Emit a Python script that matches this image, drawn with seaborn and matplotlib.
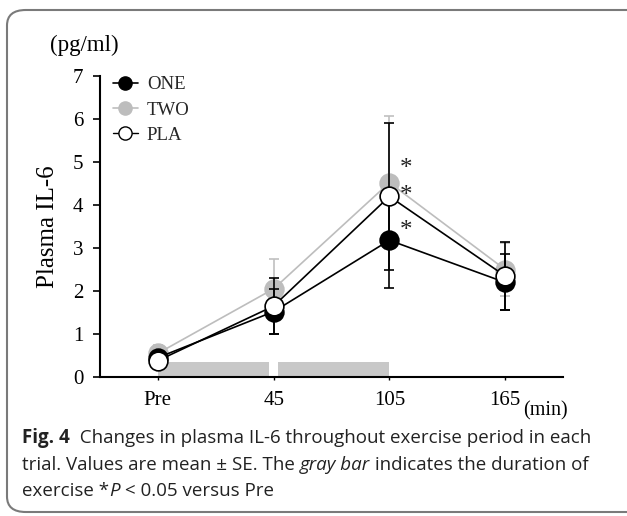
import matplotlib
matplotlib.use("Agg")
import matplotlib.pyplot as plt
from matplotlib.patches import FancyBboxPatch
from matplotlib.lines import Line2D
import seaborn as sns
import pandas as pd
import numpy as np

# ---- data ----
time_labels = ["Pre", "45", "105", "165"]
one_mean = [0.45, 1.52, 3.18, 2.20]
one_se = [0.15, 0.52, 1.10, 0.65]
two_mean = [0.55, 2.05, 4.52, 2.50]
two_se = [0.20, 0.70, 1.55, 0.62]
pla_mean = [0.38, 1.65, 4.20, 2.35]
pla_se = [0.12, 0.65, 1.70, 0.80]
exercise_bars = [(0.0, 0.96), (1.04, 2.0)]
exercise_bar_height = 0.35
sig_y = [4.83, 4.20, 3.40]

sns.set_theme(style="white")
plt.rcParams["font.family"] = ["Liberation Serif", "DejaVu Serif"]

fig = plt.figure(figsize=(6.27, 5.16), dpi=100)
ax = fig.add_axes([100/627, 1-377/516, (563-100)/627, (377-76)/516])

x = np.arange(len(time_labels))
rows = []
for name, m in [("TWO", two_mean), ("ONE", one_mean), ("PLA", pla_mean)]:
    for i, v in enumerate(m):
        rows.append({"x": x[i], "val": v, "trial": name})
df = pd.DataFrame(rows)

# gray exercise bars
for (a, b) in exercise_bars:
    ax.bar((a + b) / 2, exercise_bar_height, width=b - a, color="#c8c8c8",
           edgecolor="none", zorder=1)

styles = {
    "TWO": dict(color="#bdbdbd", mfc="#bdbdbd", mec="#bdbdbd", ecol="#c0c0c0", z=2),
    "ONE": dict(color="black", mfc="black", mec="black", ecol="black", z=3),
    "PLA": dict(color="black", mfc="white", mec="black", ecol="black", z=4),
}
means = {"ONE": one_mean, "TWO": two_mean, "PLA": pla_mean}
ses = {"ONE": one_se, "TWO": two_se, "PLA": pla_se}

for name in ["TWO", "ONE", "PLA"]:
    st = styles[name]
    ax.errorbar(x, means[name], yerr=ses[name], fmt="none", ecolor=st["ecol"],
                elinewidth=1.2, capsize=3.5, capthick=1.2, zorder=st["z"])
    sub = df[df["trial"] == name]
    sns.lineplot(data=sub, x="x", y="val", ax=ax, color=st["color"], lw=1.2,
                 marker="o", markersize=13.5, markerfacecolor=st["mfc"],
                 markeredgecolor=st["mec"], markeredgewidth=1.2, zorder=st["z"],
                 legend=False)

for yv in sig_y:
    ax.text(2.14, yv, "*", fontsize=18, ha="center", va="center", color="#222222")

ax.set_xlim(-0.5, 3.5)
ax.set_ylim(0, 7)
ax.set_xticks(x)
ax.set_xticklabels(time_labels)
ax.set_yticks(range(8))
ax.tick_params(axis="y", length=5, width=1.2, direction="out", left=True, labelsize=15, pad=7, colors="black")
ax.tick_params(axis="x", length=2, width=1, direction="out", bottom=True, labelsize=15, pad=8, colors="black")
for s in ["top", "right"]:
    ax.spines[s].set_visible(False)
for s in ["left", "bottom"]:
    ax.spines[s].set_color("black")
    ax.spines[s].set_linewidth(1.5)
ax.set_xlabel("")
ax.set_ylabel("Plasma IL-6", fontsize=18, labelpad=10, color="black")

# legend
handles = [
    Line2D([0], [0], color="black", lw=1.2, marker="o", markersize=9.5, mfc="black", mec="black"),
    Line2D([0], [0], color="#bdbdbd", lw=1.2, marker="o", markersize=9.5, mfc="#bdbdbd", mec="#bdbdbd"),
    Line2D([0], [0], color="black", lw=1.0, marker="o", markersize=9.5, mfc="white", mec="black"),
]
ax.legend(handles, ["ONE", "TWO", "PLA"], loc="upper left", bbox_to_anchor=(-0.008, 1.055),
          frameon=False, fontsize=13.5, handlelength=1.3, handletextpad=0.5,
          labelspacing=0.43)

fig.text(50/627, 1-45/516, "(pg/ml)", fontsize=16.5, ha="left", va="center", color="black")
fig.text(545/627, 1-411/516, "(min)", fontsize=14.5, ha="center", va="center", color="black")

# caption with mixed styles
cap_font = ["Open Sans", "DejaVu Sans"]
cap_size = 13.5
cap_color = "#222222"
caption_lines = [
    [("Fig. 4", "bold", "normal"), ("  Changes in plasma IL-6 throughout exercise period in each", "normal", "normal")],
    [("trial. Values are mean \u00b1 SE. The ", "normal", "normal"), ("gray bar", "normal", "italic"),
     (" indicates the duration of", "normal", "normal")],
    [("exercise *", "normal", "normal"), ("P", "normal", "italic"), (" < 0.05 versus Pre", "normal", "normal")],
]
caption_y = [438, 465, 491]
renderer = fig.canvas.get_renderer()
for segs, yp in zip(caption_lines, caption_y):
    xp = 22
    for txt, wt, stl in segs:
        t = fig.text(xp/627, 1-yp/516, txt, fontsize=cap_size, ha="left", va="center",
                     family=cap_font, weight=wt, style=stl, color=cap_color)
        bb = t.get_window_extent(renderer=renderer)
        xp += bb.width

# frame
frame = FancyBboxPatch((7/627, 4/516), 700/627, (516-10-4)/516,
                       boxstyle="round,pad=0,rounding_size=0.03",
                       transform=fig.transFigure, fill=False, edgecolor="#7a7a7a",
                       lw=1.5, clip_on=False)
fig.patches.append(frame)

fig.savefig("out.png", dpi=100)
